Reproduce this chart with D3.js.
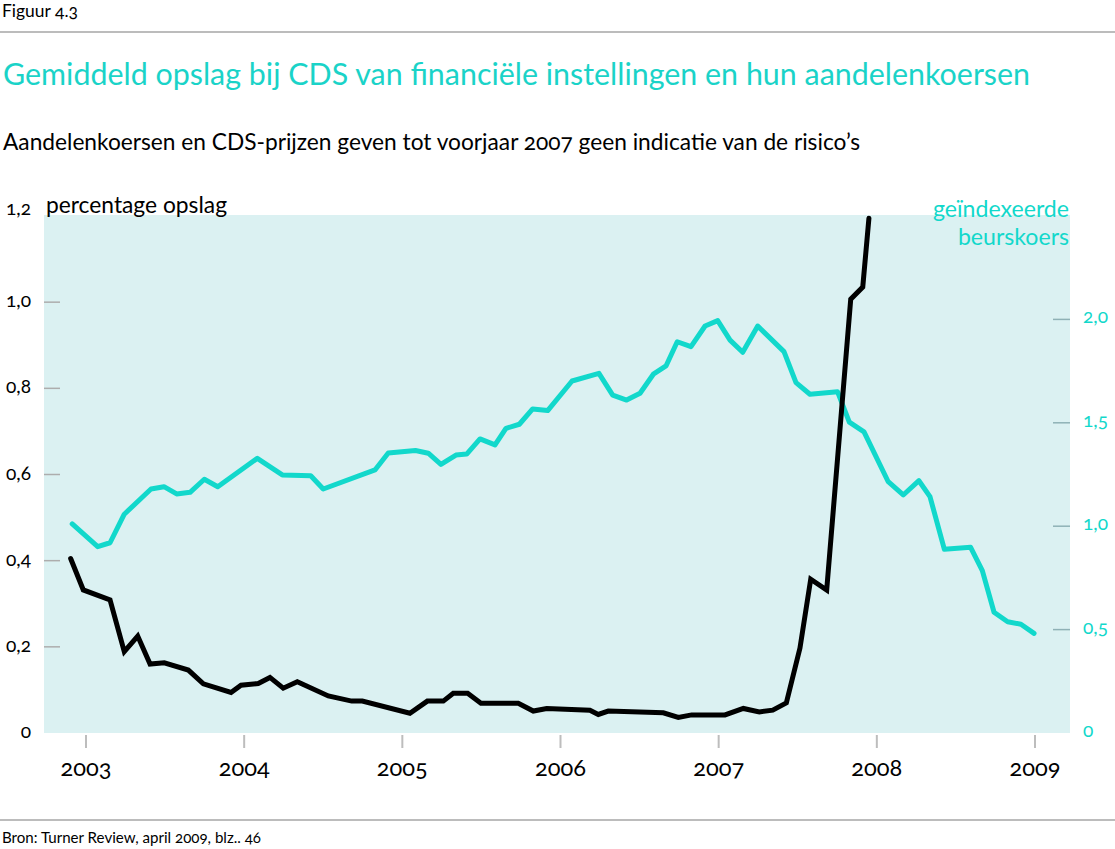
<!DOCTYPE html>
<html>
<head>
<meta charset="utf-8">
<script src="https://cdn.jsdelivr.net/npm/d3@7"></script>
<style>
  html, body { margin: 0; padding: 0; background: #fff; }
  svg { display: block; font-family: Lato, "Open Sans", sans-serif; font-variant-numeric: oldstyle-nums; font-feature-settings: "onum" 1; }
</style>
</head>
<body>
<svg id="chart" width="1115" height="849"></svg>
<script>
// ---- data (decimal year, value) ----
const cdsDates = [2002.903, 2002.983, 2003.152, 2003.242, 2003.327, 2003.405, 2003.495, 2003.647, 2003.742, 2003.917,
  2003.980, 2004.089, 2004.163, 2004.247, 2004.336, 2004.532, 2004.680, 2004.747, 2005.048, 2005.158,
  2005.259, 2005.322, 2005.413, 2005.497, 2005.733, 2005.828, 2005.913, 2006.186, 2006.239, 2006.302,
  2006.650, 2006.745, 2006.829, 2007.040, 2007.156, 2007.257, 2007.342, 2007.428, 2007.514, 2007.582,
  2007.683, 2007.835, 2007.911, 2007.950];
const cdsValues = [0.405, 0.332, 0.309, 0.189, 0.225, 0.160, 0.163, 0.146, 0.114, 0.094,
  0.111, 0.115, 0.129, 0.104, 0.119, 0.086, 0.074, 0.074, 0.046, 0.074,
  0.074, 0.092, 0.092, 0.069, 0.069, 0.051, 0.057, 0.053, 0.043, 0.051,
  0.047, 0.036, 0.042, 0.042, 0.057, 0.049, 0.053, 0.070, 0.197, 0.357,
  0.332, 1.007, 1.035, 1.195];

const koersDates = [2002.913, 2003.074, 2003.152, 2003.242, 2003.411, 2003.493, 2003.573, 2003.658, 2003.748, 2003.833,
  2004.083, 2004.241, 2004.421, 2004.500, 2004.827, 2004.911, 2005.083, 2005.164, 2005.244, 2005.339,
  2005.407, 2005.491, 2005.586, 2005.655, 2005.740, 2005.824, 2005.919, 2006.073, 2006.243, 2006.330,
  2006.418, 2006.503, 2006.587, 2006.667, 2006.738, 2006.825, 2006.914, 2006.994, 2007.072, 2007.152,
  2007.247, 2007.413, 2007.489, 2007.577, 2007.752, 2007.826, 2007.919, 2008.072, 2008.167, 2008.266,
  2008.336, 2008.427, 2008.593, 2008.667, 2008.741, 2008.827, 2008.911, 2008.994];
const koersValues = [1.011, 0.901, 0.920, 1.058, 1.180, 1.191, 1.156, 1.164, 1.227, 1.191,
  1.328, 1.248, 1.244, 1.180, 1.272, 1.354, 1.366, 1.353, 1.299, 1.344,
  1.349, 1.422, 1.393, 1.473, 1.493, 1.567, 1.559, 1.702, 1.739, 1.634,
  1.610, 1.643, 1.735, 1.775, 1.892, 1.868, 1.968, 1.994, 1.900, 1.841,
  1.968, 1.844, 1.694, 1.638, 1.650, 1.503, 1.456, 1.215, 1.151, 1.220,
  1.143, 0.888, 0.898, 0.785, 0.584, 0.538, 0.526, 0.482];

const yearTicks = [2003, 2004, 2005, 2006, 2007, 2008, 2009];
const leftTicks = [0, 0.2, 0.4, 0.6, 0.8, 1.0, 1.2];
const leftTickLabels = ["0", "0,2", "0,4", "0,6", "0,8", "1,0", "1,2"];
const rightTicks = [0, 0.5, 1.0, 1.5, 2.0];
const rightTickLabels = ["0", "0,5", "1,0", "1,5", "2,0"];

// ---- layout ----
const CYAN = "#12d8cb";
const TITLE_CYAN = "#1ad3c8";
const BG = "#dbf1f2";
const plot = { left: 44, right: 1070, top: 215, bottom: 733 };

const svg = d3.select("#chart");

const x = d3.scaleLinear().domain([2003, 2009]).range([86, 1035]);
const yL = d3.scaleLinear().domain([0, 1.2]).range([733, 216]);
const yR = d3.scaleLinear().domain([0, 2.5]).range([733, 216]);

function fitText(sel, target) {
  const node = sel.node();
  let fs = parseFloat(sel.attr("font-size"));
  for (let i = 0; i < 3; i++) {
    const w = node.getComputedTextLength();
    if (w > 0) { fs = fs * target / w; sel.attr("font-size", fs); }
  }
  return fs;
}
function sizeFor(str, base, target) {
  const t = svg.append("text").attr("font-size", base).text(str);
  const fs = fitText(t, target);
  t.remove();
  return fs;
}

// header
fitText(svg.append("text").attr("x", 2).attr("y", 17).attr("font-size", 17).attr("fill", "#000").text("Figuur 4.3"), 76);
svg.append("line").attr("x1", 0).attr("x2", 1115).attr("y1", 32).attr("y2", 32).attr("stroke", "#bcbcbc").attr("stroke-width", 2);
fitText(svg.append("text").attr("x", 3).attr("y", 85).attr("font-size", 30).attr("fill", TITLE_CYAN)
  .text("Gemiddeld opslag bij CDS van financiële instellingen en hun aandelenkoersen"), 1027);
fitText(svg.append("text").attr("x", 3).attr("y", 150).attr("font-size", 21).attr("fill", "#000")
  .text("Aandelenkoersen en CDS-prijzen geven tot voorjaar 2007 geen indicatie van de risico’s"), 857);

// plot background
svg.append("rect").attr("x", plot.left).attr("y", plot.top)
  .attr("width", plot.right - plot.left).attr("height", plot.bottom - plot.top).attr("fill", BG);

const tickFs = sizeFor("0,2", 18, 25);
const yearFs = sizeFor("2003", 21, 51);

// left axis ticks
const leftAxis = svg.append("g");
leftAxis.selectAll("line").data(leftTicks.filter(d => d > 0 && d < 1.2)).join("line")
  .attr("x1", plot.left).attr("x2", 60).attr("y1", d => yL(d)).attr("y2", d => yL(d))
  .attr("stroke", "#adadad").attr("stroke-width", 1.5);
leftAxis.selectAll("text").data(leftTicks).join("text")
  .attr("x", 31).attr("y", d => d === 1.2 ? 215 : yL(d) + 5)
  .attr("text-anchor", "end").attr("font-size", tickFs).attr("fill", "#000")
  .text((d, i) => leftTickLabels[i]);

// right axis ticks
const rightAxis = svg.append("g");
rightAxis.selectAll("line").data(rightTicks.filter(d => d > 0)).join("line")
  .attr("x1", 1053).attr("x2", plot.right).attr("y1", d => yR(d)).attr("y2", d => yR(d))
  .attr("stroke", "#8fb1b6").attr("stroke-width", 1.5);
rightAxis.selectAll("text").data(rightTicks).join("text")
  .attr("x", 1083).attr("y", d => yR(d) + 4)
  .attr("font-size", tickFs).attr("fill", CYAN)
  .text((d, i) => rightTickLabels[i]);

// x axis ticks
const xAxis = svg.append("g");
xAxis.selectAll("line").data(yearTicks).join("line")
  .attr("x1", d => x(d)).attr("x2", d => x(d)).attr("y1", 735).attr("y2", 748)
  .attr("stroke", "#bdbdbd").attr("stroke-width", 2);
xAxis.selectAll("text").data(yearTicks).join("text")
  .attr("x", d => x(d)).attr("y", 776).attr("text-anchor", "middle")
  .attr("font-size", yearFs).attr("fill", "#000").text(d => d);

// axis titles
fitText(svg.append("text").attr("x", 46).attr("y", 213).attr("font-size", 21).attr("fill", "#000").text("percentage opslag"), 181);
const gi = svg.append("text").attr("x", 1069).attr("y", 217).attr("text-anchor", "end").attr("font-size", 21).attr("fill", CYAN).text("geïndexeerde");
const giFs = fitText(gi, 136);
svg.append("text").attr("x", 1069).attr("y", 245).attr("text-anchor", "end").attr("font-size", giFs).attr("fill", CYAN).text("beurskoers");

// lines
const koersLine = d3.line().x((d, i) => x(koersDates[i])).y(d => yR(d));
svg.append("path").datum(koersValues).attr("d", koersLine)
  .attr("fill", "none").attr("stroke", CYAN).attr("stroke-width", 5).attr("stroke-linejoin", "round").attr("stroke-linecap", "round");

const cdsLine = d3.line().x((d, i) => x(cdsDates[i])).y(d => yL(d));
svg.append("path").datum(cdsValues).attr("d", cdsLine)
  .attr("fill", "none").attr("stroke", "#000").attr("stroke-width", 5).attr("stroke-linejoin", "miter").attr("stroke-linecap", "round");

// footer
svg.append("line").attr("x1", 0).attr("x2", 1115).attr("y1", 820).attr("y2", 820).attr("stroke", "#bcbcbc").attr("stroke-width", 2);
fitText(svg.append("text").attr("x", 2).attr("y", 843).attr("font-size", 15).attr("fill", "#000").text("Bron: Turner Review, april 2009, blz.. 46"), 259);
</script>
</body>
</html>
